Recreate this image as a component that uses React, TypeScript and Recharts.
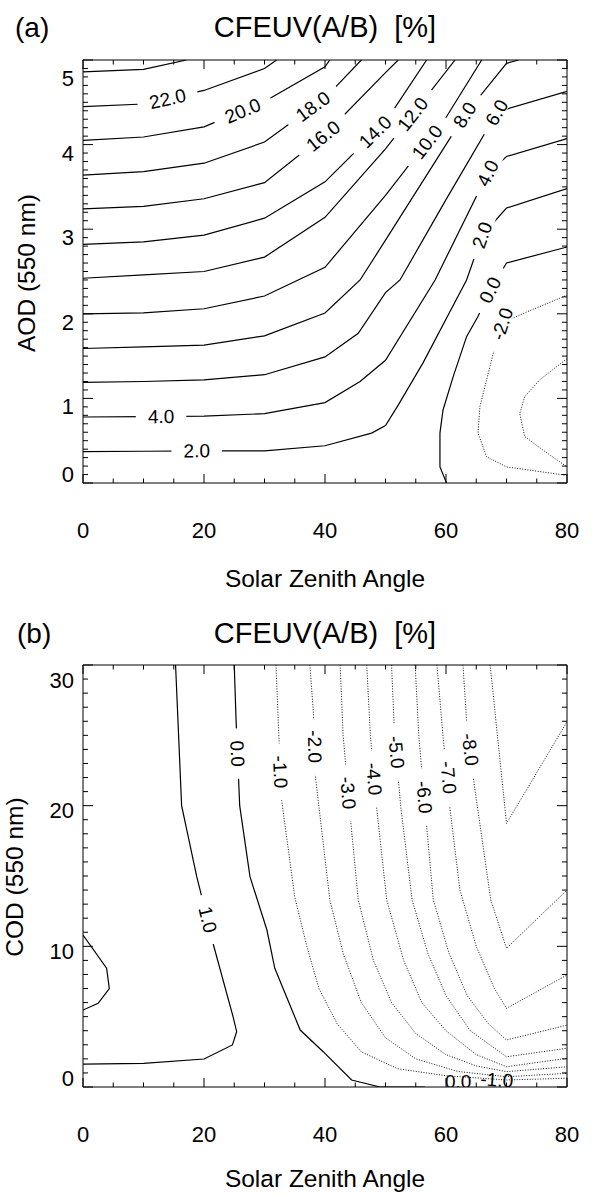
import React from "react";
import { ScatterChart, Scatter, XAxis, YAxis } from "recharts";

const FONT = '"Liberation Sans", Arial, Helvetica, sans-serif';

// axis tick labels
const SZA_TICKS = [0, 20, 40, 60, 80];
const AOD_TICKS = [0, 1, 2, 3, 4, 5];
const COD_TICKS = [0, 10, 20, 30];

// ---- panel (a): contour lines, [solar zenith angle, AOD] ----
const A_24 = [[0, 4.86], [10, 4.89], [17.1, 5.0]];
const A_22 = [[0, 4.45], [10, 4.48], [20, 4.64], [30, 4.9], [32, 5.0]];
const A_20 = [[0, 4.05], [10, 4.09], [20, 4.21], [30, 4.51], [40, 4.92], [40.8, 5.0]];
const A_18 = [[0, 3.64], [10, 3.68], [20, 3.78], [30, 4.03], [40, 4.55], [46, 5.0]];
const A_16 = [[0, 3.24], [10, 3.27], [20, 3.36], [30, 3.55], [40, 4.12], [50, 4.85], [52.1, 5.0]];
const A_14 = [[0, 2.82], [10, 2.85], [20, 2.93], [30, 3.13], [40, 3.56], [50, 4.27], [56.8, 5.0]];
const A_12 = [[0, 2.42], [10, 2.46], [20, 2.5], [30, 2.67], [40, 3.14], [50, 3.95], [61.5, 5.0]];
const A_10 = [[0, 2.0], [10, 2.01], [20, 2.06], [30, 2.21], [40, 2.55], [50, 3.4], [60, 4.32], [65.9, 5.0]];
const A_8 = [[0, 1.59], [10, 1.61], [20, 1.63], [30, 1.74], [40, 2.01], [45.8, 2.4], [50, 2.87], [60, 4.0], [63.1, 4.35], [70, 4.96], [72, 5.0]];
const A_6 = [[0, 1.19], [10, 1.2], [20, 1.22], [30, 1.28], [40, 1.49], [45.5, 1.77], [50, 2.25], [52.4, 2.4], [60, 3.35], [68.6, 4.4], [70, 4.42], [80, 4.63]];
const A_4 = [[0, 0.78], [10, 0.785], [20, 0.79], [30, 0.82], [40, 0.95], [45.8, 1.2], [50, 1.45], [58.2, 2.4], [66.9, 3.66], [70, 3.86], [80, 4.07]];
const A_2 = [[0, 0.37], [10, 0.375], [20, 0.38], [30, 0.38], [40, 0.44], [47.7, 0.59], [50, 0.68], [52.1, 0.92], [56.2, 1.42], [63.4, 2.4], [66, 2.93], [70, 3.25], [80, 3.48]];
const A_0 = [[60.1, 0], [59, 0.19], [59, 0.59], [59.5, 0.86], [61.2, 1.26], [63.4, 1.73], [65.3, 1.97], [67.5, 2.3], [70, 2.6], [80, 2.79]];
const A_M2 = [[80, 0.09], [70, 0.19], [66.7, 0.31], [65.3, 0.59], [65.6, 0.9], [67.8, 1.53], [69.5, 1.9], [73.3, 2.02], [80, 2.22]];
const A_M4 = [[80, 1.47], [75.5, 1.22], [73, 1.02], [72.2, 0.82], [73, 0.55], [76, 0.39], [80, 0.19]];

const CONTOURS_A = [
  { level: 24, pts: A_24 }, { level: 22, pts: A_22 }, { level: 20, pts: A_20 },
  { level: 18, pts: A_18 }, { level: 16, pts: A_16 }, { level: 14, pts: A_14 },
  { level: 12, pts: A_12 }, { level: 10, pts: A_10 }, { level: 8, pts: A_8 },
  { level: 6, pts: A_6 }, { level: 4, pts: A_4 }, { level: 2, pts: A_2 },
  { level: 0, pts: A_0 }, { level: -2, pts: A_M2 }, { level: -4, pts: A_M4 },
];

const LABELS_A = [
  { level: 22, x: 14, y: 4.54 }, { level: 20, x: 26.4, y: 4.4 }, { level: 18, x: 38, y: 4.45 },
  { level: 16, x: 39.7, y: 4.1 }, { level: 14, x: 48.3, y: 4.15 }, { level: 12, x: 54.5, y: 4.36 },
  { level: 10, x: 56.9, y: 4.03 }, { level: 8, x: 63.1, y: 4.35 }, { level: 6, x: 68.4, y: 4.38 },
  { level: 4, x: 66.9, y: 3.66 }, { level: 2, x: 66, y: 2.93 }, { level: 0, x: 67.3, y: 2.28 },
  { level: -2, x: 69.3, y: 1.88 }, { level: 4, x: 12.9, y: 0.785 }, { level: 2, x: 18.8, y: 0.38 },
];

// ---- panel (b): contour lines, [solar zenith angle, COD] ----
const B_2 = [[0, 10.8], [3.9, 8.44], [4.35, 7.0], [2.5, 5.95], [0, 5.47]];
const B_1 = [[15.3, 30], [16.3, 20], [18.8, 14.95], [19.3, 14.1], [21.5, 10.2], [24.8, 5.0], [25.4, 3.93], [24.7, 2.99], [20, 1.99], [10, 1.68], [0, 1.63]];
const B_0 = [[25, 30], [25.3, 26.1], [25.9, 20], [27.6, 14.95], [30.4, 11.16], [31.7, 8.44], [34.2, 5.83], [35.9, 4.05], [39.7, 2.51], [44.4, 0.5], [49.1, 0], [56.5, 0]];
const B_M1 = [[31.9, 30], [32.4, 24.7], [32.8, 20.5], [35, 13.5], [37, 10], [39, 7], [42, 4.5], [46, 2.5], [52, 1.3], [60, 0.8], [70, 0.5], [80, 0.62]];
const B_M2 = [[37.5, 30], [38.1, 26.5], [38.3, 22.5], [40.8, 13.3], [43, 9.5], [46, 6], [50, 3.5], [55, 2], [62, 1.1], [70, 0.73], [80, 0.97]];
const B_M3 = [[42.5, 30], [43, 25], [44, 20], [45.5, 13.3], [48, 9], [51, 6], [55, 3.8], [60, 2.3], [65, 1.5], [70, 1.09], [80, 1.44]];
const B_M4 = [[46.9, 30], [47.5, 25], [48.5, 20], [50.2, 13.3], [53, 9], [56, 6], [60, 4], [65, 2.3], [70, 1.44], [80, 2.04]];
const B_M5 = [[51, 30], [51.5, 25], [52.5, 20], [54.4, 13.3], [57, 9.5], [60, 6.5], [64, 4], [70, 2.15], [80, 2.75]];
const B_M6 = [[54.9, 30], [55.5, 25], [56.5, 20], [57.9, 13.3], [60.5, 9.5], [63.5, 6.5], [67, 4.5], [70, 3.34], [80, 4.4]];
const B_M7 = [[58.5, 30], [59.5, 25], [60.6, 20], [62.3, 14], [65, 10], [68, 7], [70, 5.59], [80, 7.96]];
const B_M8 = [[62.8, 30], [63.4, 26.1], [64.5, 22], [67.4, 13.3], [70, 9.86], [80, 14.0]];
const B_M9 = [[67.3, 30], [70, 18.74], [80, 25.96]];

const CONTOURS_B = [
  { level: 2, pts: B_2 }, { level: 1, pts: B_1 }, { level: 0, pts: B_0 },
  { level: -1, pts: B_M1 }, { level: -2, pts: B_M2 }, { level: -3, pts: B_M3 },
  { level: -4, pts: B_M4 }, { level: -5, pts: B_M5 }, { level: -6, pts: B_M6 },
  { level: -7, pts: B_M7 }, { level: -8, pts: B_M8 }, { level: -9, pts: B_M9 },
];

const LABELS_B = [
  { level: 0, x: 25.5, y: 23.7 }, { level: -1, x: 32.6, y: 22.4 }, { level: -2, x: 38.3, y: 24.2 },
  { level: -3, x: 43.8, y: 20.9 }, { level: -4, x: 48.1, y: 21.9 }, { level: -5, x: 51.8, y: 23.8 },
  { level: -6, x: 56.4, y: 20.6 }, { level: -7, x: 60.4, y: 22.0 }, { level: -8, x: 64.0, y: 24.0 },
  { level: 1, x: 20.6, y: 11.9 }, { level: 0, x: 62, y: 0.38 }, { level: -1, x: 68.4, y: 0.5 },
];

// ---- layout ----
const CHART_W = 592;
const PLOT_W = 484;
const SX = PLOT_W / 80;

const xMinor = Array.from({ length: 17 }, (_, i) => i * 5);
const aodMinor = Array.from({ length: 51 }, (_, i) => i / 10);
const codMinor = Array.from({ length: 31 }, (_, i) => i);

const isMajor = (v: number, step: number) => Math.abs(v / step - Math.round(v / step)) < 1e-6;

function textWidth(s: string, fs: number) {
  let w = 0;
  for (const ch of s) w += ch === "." ? 0.278 : ch === "-" ? 0.333 : 0.556;
  return w * fs;
}

function labelAngle(pts: number[][], lx: number, ly: number, sy: number) {
  let best = Infinity;
  let ang = 0;
  for (let i = 0; i < pts.length - 1; i++) {
    const ax = pts[i][0] * SX, ay = -pts[i][1] * sy;
    const bx = pts[i + 1][0] * SX, by = -pts[i + 1][1] * sy;
    const px = lx * SX, py = -ly * sy;
    const dx = bx - ax, dy = by - ay;
    const len2 = dx * dx + dy * dy || 1;
    const t = Math.max(0, Math.min(1, ((px - ax) * dx + (py - ay) * dy) / len2));
    const d = Math.hypot(ax + t * dx - px, ay + t * dy - py);
    if (d < best) {
      best = d;
      ang = (Math.atan2(dy, dx) * 180) / Math.PI;
    }
  }
  while (ang > 90) ang -= 180;
  while (ang <= -90) ang += 180;
  return ang;
}

function ContourLabel(props: any) {
  const { cx, cy, payload } = props;
  if (cx == null || cy == null) return <g />;
  const text = payload.level.toFixed(1);
  const fs = 19;
  const tw = textWidth(text, fs);
  return (
    <g transform={`translate(${cx},${cy}) rotate(${payload.angle})`}>
      {payload.mask && <rect x={-tw / 2 - 12} y={-7.5} width={tw + 24} height={15} fill="#fff" />}
      <text x={0} y={0} textAnchor="middle" dominantBaseline="central" fontSize={fs} fontFamily={FONT} fill="#000">
        {text}
      </text>
    </g>
  );
}

const NoDot = () => <g />;

type PanelProps = {
  contours: { level: number; pts: number[][] }[];
  labels: { level: number; x: number; y: number }[];
  yMax: number;
  yTicks: number[];
  yMinor: number[];
  yStep: number;
  chartH: number;
  top: number;
  xAxisH: number;
  yOff: number;
  yTopPad: number;
};

function Panel({ contours, labels, yMax, yTicks, yMinor, yStep, chartH, top, xAxisH, yOff, yTopPad }: PanelProps) {
  const plotH = chartH - top - xAxisH;
  const sy = plotH / yMax;
  const bottom = top + plotH;

  const labelPts = labels.map((l) => {
    const c = contours.find((k) => k.level === l.level)!;
    return { ...l, angle: labelAngle(c.pts, l.x, l.y, sy), mask: l.y > yMax * 0.03 };
  });

  const bottomTick = (p: any) => {
    const v = p.payload.value;
    const major = isMajor(v, 20);
    return (
      <g>
        <line x1={p.x} y1={p.y} x2={p.x} y2={p.y - (major ? 9 : 4.5)} stroke="#000" />
        {major && SZA_TICKS.includes(v) && (
          <text x={p.x} y={p.y + 47} textAnchor="middle" dominantBaseline="central" fontSize={22} fontFamily={FONT} fill="#000">
            {v}
          </text>
        )}
      </g>
    );
  };
  const topTick = (p: any) => {
    const major = isMajor(p.payload.value, 20);
    return <line x1={p.x} y1={top} x2={p.x} y2={top + (major ? 9 : 4.5)} stroke="#000" />;
  };
  const leftTick = (p: any) => {
    const v = p.payload.value;
    const major = isMajor(v, yStep);
    const ty = Math.min(Math.max(p.y + yOff, top + yTopPad), bottom - 9);
    return (
      <g>
        <line x1={p.x} y1={p.y} x2={p.x + (major ? 10 : 5)} y2={p.y} stroke="#000" />
        {major && yTicks.some((t) => Math.abs(t - v) < 1e-6) && (
          <text x={74} y={ty} textAnchor="end" dominantBaseline="central" fontSize={22} fontFamily={FONT} fill="#000">
            {Math.round(v)}
          </text>
        )}
      </g>
    );
  };
  const rightEdge = 83 + PLOT_W;
  const rightTick = (p: any) => {
    const major = isMajor(p.payload.value, yStep);
    return <line x1={rightEdge} y1={p.y} x2={rightEdge - (major ? 10 : 5)} y2={p.y} stroke="#000" />;
  };

  return (
    <ScatterChart width={CHART_W} height={chartH} margin={{ top: top - 1, right: CHART_W - rightEdge - 1, bottom: 0, left: 0 }}>
      <XAxis xAxisId="b" type="number" dataKey="x" domain={[0, 80]} ticks={xMinor} interval={0} height={xAxisH}
        tickSize={0} tickMargin={0} tick={bottomTick} axisLine={{ stroke: "#000" }} allowDataOverflow />
      <XAxis xAxisId="t" orientation="top" type="number" dataKey="x" domain={[0, 80]} ticks={xMinor} interval={0} height={1}
        tickSize={0} tickMargin={0} tick={topTick} axisLine={{ stroke: "#000" }} allowDataOverflow />
      <YAxis yAxisId="l" type="number" dataKey="y" domain={[0, yMax]} ticks={yMinor} interval={0} width={83}
        tickSize={0} tickMargin={0} tick={leftTick} axisLine={{ stroke: "#000" }} allowDataOverflow />
      <YAxis yAxisId="r" orientation="right" type="number" dataKey="y" domain={[0, yMax]} ticks={yMinor} interval={0} width={1}
        tickSize={0} tickMargin={0} tick={rightTick} axisLine={{ stroke: "#000" }} allowDataOverflow />
      {contours.map((c, i) => (
        <Scatter
          key={i}
          xAxisId="b"
          yAxisId="l"
          data={c.pts.map(([x, y]) => ({ x, y }))}
          fill="#000"
          shape={NoDot}
          line={c.level < 0
            ? { stroke: "#111", strokeWidth: 1, strokeDasharray: "1 1.6" }
            : { stroke: "#000", strokeWidth: 1.2 }}
          isAnimationActive={false}
        />
      ))}
      <Scatter xAxisId="b" yAxisId="l" data={labelPts} fill="#000" shape={ContourLabel} isAnimationActive={false} />
    </ScatterChart>
  );
}

export default function App() {
  const t = { fontFamily: FONT, fill: "#000" } as const;
  return (
    <div style={{ position: "absolute", left: 0, top: 0, width: 592, height: 1196, background: "#fff" }}>
      <div style={{ position: "absolute", left: 0, top: 0 }}>
        <Panel contours={CONTOURS_A} labels={LABELS_A} yMax={5} yTicks={AOD_TICKS} yMinor={aodMinor} yStep={1}
          chartH={600} top={60} xAxisH={117} yOff={8.5} yTopPad={18} />
      </div>
      <div style={{ position: "absolute", left: 0, top: 600 }}>
        <Panel contours={CONTOURS_B} labels={LABELS_B} yMax={30} yTicks={COD_TICKS} yMinor={codMinor} yStep={10}
          chartH={596} top={65} xAxisH={109} yOff={5} yTopPad={15} />
      </div>
      <svg width={592} height={1196} style={{ position: "absolute", left: 0, top: 0, pointerEvents: "none" }}>
        <text x={15} y={27} fontSize={28} dominantBaseline="central" {...t}>(a)</text>
        <text x={325} y={27} fontSize={29} textAnchor="middle" dominantBaseline="central" style={{ whiteSpace: "pre" }} {...t}>
          {"CFEUV(A/B)  [%]"}
        </text>
        <text x={325} y={578} fontSize={24.5} textAnchor="middle" dominantBaseline="central" {...t}>Solar Zenith Angle</text>
        <text x={26} y={273} fontSize={24.5} textAnchor="middle" dominantBaseline="central" transform="rotate(-90 26 273)" {...t}>
          AOD (550 nm)
        </text>
        <text x={17} y={633} fontSize={28} dominantBaseline="central" {...t}>(b)</text>
        <text x={325} y={633} fontSize={29} textAnchor="middle" dominantBaseline="central" style={{ whiteSpace: "pre" }} {...t}>
          {"CFEUV(A/B)  [%]"}
        </text>
        <text x={325} y={1178} fontSize={24.5} textAnchor="middle" dominantBaseline="central" {...t}>Solar Zenith Angle</text>
        <text x={14} y={877} fontSize={24.5} textAnchor="middle" dominantBaseline="central" transform="rotate(-90 14 877)" {...t}>
          COD (550 nm)
        </text>
      </svg>
    </div>
  );
}
